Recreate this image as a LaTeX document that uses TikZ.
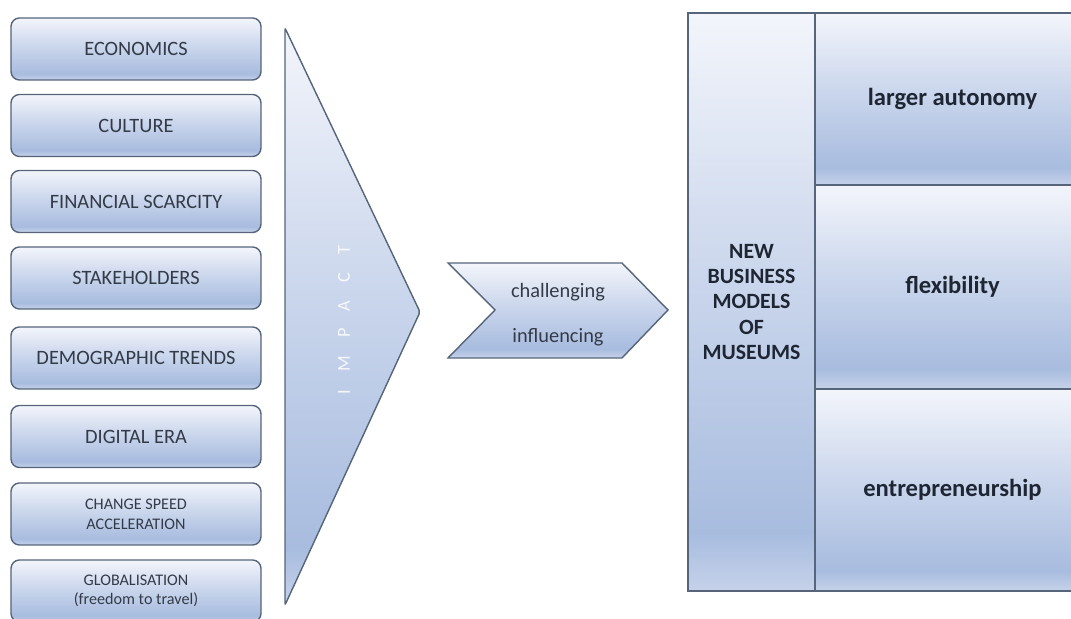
\documentclass[tikz,border=0pt]{standalone}
\usepackage{fontspec}
\setmainfont{Carlito}
\usepackage{xcolor}
\usepackage{tikz}

\definecolor{offtop}{HTML}{F3F5FB}
\definecolor{offmid}{HTML}{CAD6EC}
\definecolor{offdark}{HTML}{A8BCDF}
\definecolor{offbot}{HTML}{C6D2EA}
\definecolor{rim}{HTML}{56657A}
\definecolor{ink}{HTML}{343B48}
\definecolor{inkdark}{HTML}{1E2634}

% 浅色到蓝色的渐变
\pgfdeclareverticalshading{office}{100bp}{color(0bp)=(offbot); color(25bp)=(offbot);
  color(30bp)=(offdark); color(52bp)=(offmid); color(75bp)=(offtop); color(100bp)=(offtop)}

\tikzset{
  factor/.style={draw=rim, line width=1pt, rounded corners=6pt, shading=office,
    minimum width=6.25cm, minimum height=1.55cm, align=center, text=ink,
    font=\fontsize{14.5}{17}\selectfont},
  small/.style={font=\fontsize{11.5}{14}\selectfont},
  cell/.style={draw=rim, line width=1pt, shading=office, anchor=north west,
    outer sep=0pt, inner sep=0pt, align=center, text=inkdark},
}

\begin{document}
\begin{tikzpicture}
\useasboundingbox (0,0) rectangle (26.775,15.475);
% 左侧的八个因素
\node[factor] (econ) at (3.4,14.25) {ECONOMICS};
\node[factor] (cult) at (3.4,12.3375) {CULTURE};
\node[factor] (fin) at (3.4,10.4375) {FINANCIAL SCARCITY};
\node[factor] (stake) at (3.4,8.525) {STAKEHOLDERS};
\node[factor] (demo) at (3.4,6.525) {DEMOGRAPHIC TRENDS};
\node[factor] (digi) at (3.4,4.5625) {DIGITAL ERA};
\node[factor,small] (speed) at (3.4,2.625) {CHANGE SPEED\\ACCELERATION};
\node[factor,small] (glob) at (3.4,0.7) {GLOBALISATION\\(freedom to travel)};
% 三角形
\coordinate (Ttop) at (7.125,14.775);
\coordinate (Ttip) at (10.5,7.675);
\coordinate (Tbot) at (7.125,0.35);
\draw[draw=rim, line width=1pt, shading=office, rounded corners=1.5pt] (Ttop)--(Ttip)--(Tbot)--cycle;
\node[rotate=90, text=white, text opacity=0.85, font=\fontsize{13}{15}\selectfont] (impact) at (8.6,7.48)
  {\addfontfeatures{LetterSpace=100}IMPACT};
% 中间的箭头
\coordinate (Ca) at (11.2,8.9);
\coordinate (Cb) at (15.55,8.9);
\coordinate (Cc) at (16.7,7.725);
\coordinate (Cd) at (15.55,6.525);
\coordinate (Ce) at (11.2,6.525);
\coordinate (Cf) at (12.375,7.725);
\draw[draw=rim, line width=1pt, shading=office] (Ca)--(Cb)--(Cc)--(Cd)--(Ce)--(Cf)--cycle;
\node[text=ink, font=\fontsize{14.5}{17}\selectfont] (chall) at (13.95,8.175) {challenging};
\node[text=ink, font=\fontsize{14.5}{17}\selectfont] (infl) at (13.95,7.05) {influencing};
% 右侧的表格
\node[cell, minimum width=3.175cm, minimum height=14.45cm,
  font=\bfseries\fontsize{15.5}{18}\selectfont] (museum) at (17.2,15.15)
  {NEW\\BUSINESS\\MODELS\\OF\\MUSEUMS};
\node[cell, minimum width=6.875cm, minimum height=4.3cm,
  font=\bfseries\fontsize{17.5}{20}\selectfont] (auto) at (20.375,15.15) {larger autonomy};
\node[cell, minimum width=6.875cm, minimum height=5.1cm,
  font=\bfseries\fontsize{17.5}{20}\selectfont] (flex) at (20.375,10.85) {flexibility};
\node[cell, minimum width=6.875cm, minimum height=5.05cm,
  font=\bfseries\fontsize{17.5}{20}\selectfont] (entre) at (20.375,5.75) {entrepreneurship};
\end{tikzpicture}
\end{document}
